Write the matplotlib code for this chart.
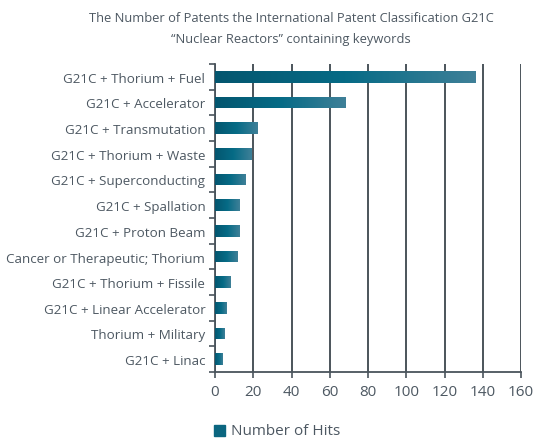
import numpy as np
import matplotlib.pyplot as plt
from matplotlib.patches import Rectangle
from matplotlib.colors import LinearSegmentedColormap

categories = ['G21C + Thorium + Fuel', 'G21C + Accelerator', 'G21C + Transmutation',
              'G21C + Thorium + Waste', 'G21C + Superconducting', 'G21C + Spallation',
              'G21C + Proton Beam', 'Cancer or Therapeutic; Thorium', 'G21C + Thorium + Fissile',
              'G21C + Linear Accelerator', 'Thorium + Military', 'G21C + Linac']
hits = [136, 68, 22, 19, 16, 13, 13, 12, 8, 6, 5, 4]
xticks = [0, 20, 40, 60, 80, 100, 120, 140, 160]

text_col = '#4d5862'
plt.rcParams['font.family'] = ['Open Sans', 'DejaVu Sans']

fig = plt.figure(figsize=(5.38, 4.39), dpi=100)
ax = fig.add_axes([215 / 538, 1 - 373 / 439, 306 / 538, 308 / 439])

y = np.arange(len(categories))
bars = ax.barh(y, hits, height=0.46, color='#0e6a83', zorder=3)

# gradient fill: dark teal on the left to lighter blue-grey on the right
grad = np.linspace(0, 1, 256).reshape(1, -1)
cmap = LinearSegmentedColormap.from_list('g', ['#04566f', '#066b86', '#3f8098'])
for b in bars:
    x0, y0 = b.get_x(), b.get_y()
    w, h = b.get_width(), b.get_height()
    im = ax.imshow(grad, cmap=cmap, aspect='auto', extent=[x0, x0 + w, y0, y0 + h],
                   zorder=4, interpolation='bilinear')
    im.set_clip_path(b)

ax.set_xlim(0, 160)
ax.set_ylim(len(categories) - 0.5, -0.5)
ax.set_xticks(xticks)
ax.set_yticks(y)
ax.set_yticklabels(categories, fontsize=9.6, color=text_col)
ax.set_yticks(np.arange(-0.5, len(categories)), minor=True)
ax.tick_params(axis='y', which='major', length=0, pad=7)
ax.tick_params(axis='y', which='minor', length=4, width=1.2, color='#4a545c')
ax.tick_params(axis='x', length=4, width=1.2, color='#4a545c', labelsize=11,
               labelcolor=text_col, pad=5)
ax.grid(axis='x', color='#3d464d', linewidth=1.3, zorder=1)
for s in ['top', 'right']:
    ax.spines[s].set_visible(False)
for s in ['left', 'bottom']:
    ax.spines[s].set_color('#4a545c')
    ax.spines[s].set_linewidth(1.3)

fig.text(291 / 538, 1 - 18 / 439,
         'The Number of Patents the International Patent Classification G21C',
         ha='center', va='center', fontsize=9.3, color=text_col)
fig.text(291 / 538, 1 - 40 / 439, '\u201cNuclear Reactors\u201d containing keywords',
         ha='center', va='center', fontsize=9.3, color=text_col)

fig.patches.append(Rectangle((214 / 538, 1 - 437 / 439), 11 / 538, 11 / 439,
                             transform=fig.transFigure, color='#0b6680', figure=fig))
fig.text(231 / 538, 1 - 432 / 439, 'Number of Hits', ha='left', va='center',
         fontsize=11, color=text_col)

fig.savefig('out.png', dpi=100)
